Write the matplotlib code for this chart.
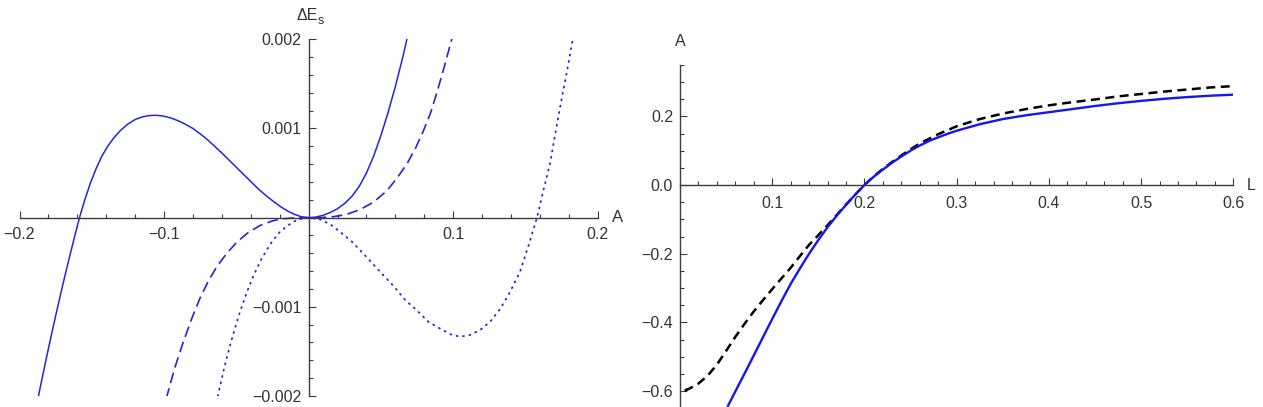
import matplotlib
matplotlib.use("Agg")
import matplotlib.pyplot as plt
from matplotlib.ticker import FixedLocator, FixedFormatter

plt.rcParams['font.family'] = ['Liberation Sans', 'DejaVu Sans']

# ---------------- Left panel data: Delta E_s (units of 1e-3) vs A ----------------
solid_A = [-0.189, -0.186, -0.182, -0.178, -0.174, -0.170, -0.166, -0.162, -0.1585,
           -0.155, -0.151, -0.147, -0.143, -0.139, -0.135, -0.130, -0.125, -0.120,
           -0.115, -0.110, -0.106, -0.102, -0.098, -0.094, -0.090, -0.085, -0.080,
           -0.075, -0.070, -0.065, -0.060, -0.055, -0.050, -0.045, -0.040, -0.035,
           -0.030, -0.025, -0.020, -0.015, -0.010, -0.005, 0.0, 0.005, 0.010, 0.015,
           0.020, 0.025, 0.030, 0.035, 0.040, 0.045, 0.050, 0.055, 0.060, 0.065, 0.069]
solid_E_milli = [-2.17, -1.93, -1.62, -1.32, -1.03, -0.75, -0.48, -0.22, 0.0,
                 0.19, 0.385, 0.55, 0.69, 0.80, 0.89, 0.98, 1.05, 1.10,
                 1.13, 1.145, 1.148, 1.143, 1.13, 1.11, 1.085, 1.045, 1.0,
                 0.94, 0.875, 0.80, 0.725, 0.645, 0.565, 0.485, 0.405, 0.325,
                 0.255, 0.19, 0.13, 0.078, 0.038, 0.010, 0.0, 0.006, 0.026, 0.058,
                 0.10, 0.16, 0.24, 0.35, 0.50, 0.69, 0.92, 1.18, 1.47, 1.79, 2.07]

dashed_A = [-0.0985, -0.0925, -0.0866, -0.0808, -0.0751, -0.0693, -0.0635, -0.0566, -0.0497,
            -0.042, -0.0336, -0.025, -0.0174, -0.009, 0.0, 0.009, 0.0172, 0.026, 0.0356,
            0.045, 0.0541, 0.061, 0.068, 0.074, 0.0795, 0.0845, 0.0887, 0.094, 0.0995]
dashed_E_milli = [-2.03, -1.68, -1.39, -1.13, -0.902, -0.71, -0.55, -0.40, -0.275,
                  -0.17, -0.088, -0.036, -0.012, -0.0017, 0.0, 0.0015, 0.011, 0.035, 0.090,
                  0.175, 0.301, 0.44, 0.602, 0.78, 0.977, 1.18, 1.40, 1.70, 2.03]

dotted_A = [-0.0628, -0.058, -0.0543, -0.050, -0.0474, -0.043, -0.0382, -0.033, -0.0266,
            -0.020, -0.0151, -0.008, 0.0, 0.008, 0.015, 0.0218, 0.030, 0.0403, 0.050,
            0.0587, 0.0669, 0.0749, 0.083, 0.091, 0.0985, 0.1044, 0.111, 0.1187, 0.1257,
            0.1325, 0.1395, 0.1464, 0.152, 0.158, 0.1625, 0.1671, 0.1705, 0.174, 0.1785, 0.1832]
dotted_E_milli = [-2.0, -1.659, -1.43, -1.187, -1.054, -0.848, -0.654, -0.475, -0.298,
                  -0.163, -0.095, -0.024, 0.0, -0.021, -0.075, -0.16, -0.27, -0.445, -0.616,
                  -0.765, -0.925, -1.04, -1.17, -1.245, -1.31, -1.334, -1.32, -1.26, -1.165,
                  -1.025, -0.83, -0.60, -0.32, 0.0, 0.31, 0.61, 0.93, 1.24, 1.62, 2.04]

left_xticks = [-0.2, -0.1, 0.1, 0.2]
left_xticklabels = ["\u22120.2", "\u22120.1", "0.1", "0.2"]
left_yticks = [-0.002, -0.001, 0.001, 0.002]
left_yticklabels = ["\u22120.002", "\u22120.001", "0.001", "0.002"]

# ---------------- Right panel data: A vs L ----------------
blue_L = [0.052, 0.06, 0.07, 0.08, 0.09, 0.10, 0.11, 0.12, 0.13, 0.14, 0.15, 0.16, 0.17,
          0.18, 0.19, 0.20, 0.21, 0.22, 0.23, 0.24, 0.25, 0.26, 0.27, 0.28, 0.29, 0.30,
          0.325, 0.35, 0.375, 0.40, 0.425, 0.45, 0.475, 0.50, 0.525, 0.55, 0.575, 0.60]
blue_A = [-0.643, -0.601, -0.549, -0.496, -0.443, -0.390, -0.338, -0.288, -0.243, -0.200,
          -0.160, -0.123, -0.089, -0.058, -0.028, 0.0, 0.024, 0.045, 0.065, 0.083, 0.100,
          0.115, 0.128, 0.139, 0.149, 0.158, 0.177, 0.192, 0.203, 0.212, 0.221, 0.230,
          0.238, 0.245, 0.251, 0.256, 0.260, 0.263]

black_L = [0.005, 0.01, 0.02, 0.03, 0.04, 0.05, 0.06, 0.07, 0.08, 0.09, 0.10, 0.11, 0.12,
           0.13, 0.14, 0.15, 0.16, 0.17, 0.18, 0.19, 0.20, 0.21, 0.22, 0.23, 0.24, 0.25,
           0.26, 0.28, 0.30, 0.325, 0.35, 0.375, 0.40, 0.425, 0.45, 0.475, 0.50, 0.525,
           0.55, 0.575, 0.60]
black_A = [-0.598, -0.593, -0.578, -0.555, -0.523, -0.483, -0.442, -0.404, -0.368, -0.335,
           -0.303, -0.272, -0.241, -0.207, -0.174, -0.146, -0.117, -0.087, -0.057, -0.028,
           0.0, 0.025, 0.047, 0.067, 0.086, 0.104, 0.121, 0.148, 0.171, 0.192, 0.208,
           0.221, 0.232, 0.241, 0.249, 0.258, 0.265, 0.272, 0.278, 0.284, 0.288]

right_xticks = [0.1, 0.2, 0.3, 0.4, 0.5, 0.6]
right_xticklabels = ["0.1", "0.2", "0.3", "0.4", "0.5", "0.6"]
right_yticks = [-0.6, -0.4, -0.2, 0.0, 0.2]
right_yticklabels = ["\u22120.6", "\u22120.4", "\u22120.2", "0.0", "0.2"]

AXC = '#3c3c3c'
TXC = '#333333'
BLUE = '#2424dc'
FS = 11.5

W, H = 1263, 407
fig = plt.figure(figsize=(W / 100, H / 100), dpi=100)


def px_axes(x0, x1, ytop, ybot):
    return fig.add_axes([x0 / W, (H - ybot) / H, (x1 - x0) / W, (ybot - ytop) / H])


def style_axes(ax):
    for s in ['top', 'right']:
        ax.spines[s].set_visible(False)
    for s in ['left', 'bottom']:
        ax.spines[s].set_color(AXC)
        ax.spines[s].set_linewidth(1.0)
    ax.patch.set_alpha(0)
    ax.tick_params(which='both', direction='in', color=AXC, width=0.8, labelcolor=TXC,
                   labelsize=FS)
    ax.tick_params(which='major', length=5)
    ax.tick_params(which='minor', length=3)


# ---------------- Left panel ----------------
axL = px_axes(19.5, 597.7, 39.3, 396.0)
axL.set_xlim(-0.2, 0.2)
axL.set_ylim(-0.002, 0.002)
style_axes(axL)
axL.spines['left'].set_position(('data', 0))
axL.spines['bottom'].set_position(('data', 0))

axL.plot(solid_A, [v * 1e-3 for v in solid_E_milli], color=BLUE, lw=1.1)
axL.plot(dashed_A, [v * 1e-3 for v in dashed_E_milli], color=BLUE, lw=1.2,
         linestyle=(0, (6.5, 3.2)))
axL.plot(dotted_A, [v * 1e-3 for v in dotted_E_milli], color=BLUE, lw=1.3,
         linestyle=(0, (0.6, 3.0)), dash_capstyle='round')

axL.xaxis.set_major_locator(FixedLocator(left_xticks))
axL.xaxis.set_major_formatter(FixedFormatter(left_xticklabels))
axL.xaxis.set_minor_locator(FixedLocator([i * 0.02 for i in range(-10, 11)
                                          if i % 5 != 0]))
axL.yaxis.set_major_locator(FixedLocator(left_yticks))
axL.yaxis.set_major_formatter(FixedFormatter(left_yticklabels))
axL.yaxis.set_minor_locator(FixedLocator([i * 0.0002 for i in range(-10, 11)
                                          if i % 5 != 0]))
axL.tick_params(axis='x', pad=7)
axL.tick_params(axis='y', pad=5)

fig.text(318 / W, 1 - 16 / H, 'ΔE', ha='right', va='center', fontsize=FS, color=TXC)
fig.text(318 / W, 1 - 21 / H, 's', ha='left', va='center', fontsize=9, color=TXC)
fig.text(618 / W, 1 - 217 / H, 'A', ha='center', va='center', fontsize=FS + 0.5, color=TXC)

# ---------------- Right panel ----------------
axR = px_axes(680.0, 1233.3, 64.8, 408.3)
axR.set_xlim(0.0, 0.6)
axR.set_ylim(-0.65, 0.35)
style_axes(axR)
axR.spines['left'].set_position(('data', 0))
axR.spines['bottom'].set_position(('data', 0))

axR.plot(black_L, black_A, color='black', lw=1.8, linestyle=(0, (3.6, 2.2)))
axR.plot(blue_L, blue_A, color='#1515f0', lw=1.7)

axR.xaxis.set_major_locator(FixedLocator(right_xticks))
axR.xaxis.set_major_formatter(FixedFormatter(right_xticklabels))
axR.xaxis.set_minor_locator(FixedLocator([i * 0.02 for i in range(1, 31) if i % 5 != 0]))
axR.yaxis.set_major_locator(FixedLocator(right_yticks))
axR.yaxis.set_major_formatter(FixedFormatter(right_yticklabels))
axR.yaxis.set_minor_locator(FixedLocator([i * 0.05 for i in range(-13, 8) if i % 4 != 0]))
axR.tick_params(axis='x', pad=8)
axR.tick_params(axis='y', pad=5)

fig.text(680 / W, 1 - 42 / H, 'A', ha='center', va='center', fontsize=FS, color=TXC)
fig.text(1251 / W, 1 - 186 / H, 'L', ha='center', va='center', fontsize=FS, color=TXC)

fig.savefig('out.png', dpi=100)
